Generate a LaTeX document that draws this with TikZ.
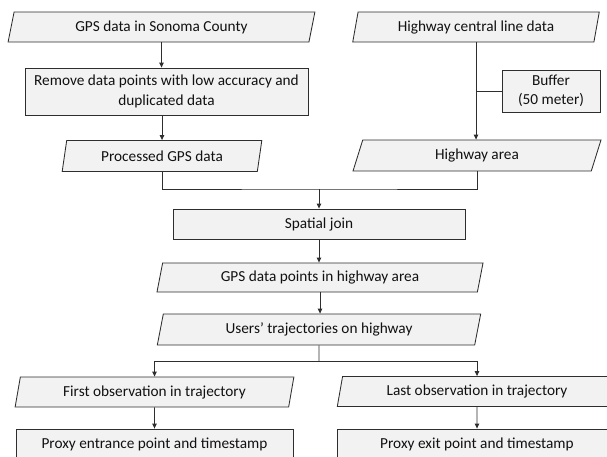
\documentclass[tikz,border=0pt]{standalone}
\usepackage{fontspec}
\setmainfont{Carlito}
\usetikzlibrary{shapes.geometric,arrows.meta,calc}
\definecolor{boxfill}{HTML}{F2F2F2}
\definecolor{boxline}{HTML}{2E2E2E}
\definecolor{txt}{HTML}{111111}
\tikzset{
  base/.style={draw=boxline, fill=boxfill, line width=0.85pt, text=txt,
    font=\fontsize{15.3}{19.5}\selectfont, inner sep=0pt, align=center},
  procbox/.style={base, rectangle},
  databox/.style={base, trapezium, trapezium left angle=75, trapezium right angle=105,
    trapezium stretches=true},
  conn/.style={draw=boxline, line width=0.85pt},
  arr/.style={conn, -{Triangle[length=5pt,width=4.5pt]}},
}
\begin{document}
\begin{tikzpicture}[x=1pt,y=-1pt]
\path[use as bounding box, clip] (0,0) rectangle (607,456);
% left column
\node[databox, minimum width=307, minimum height=30] (gps) at (161.5,27) {GPS data in Sonoma County};
\node[procbox, minimum width=283, minimum height=47] (rem) at (166.5,91.5) {Remove data points with low accuracy and\\duplicated data};
\node[databox, minimum width=200, minimum height=31] (proc) at (162,156) {Processed GPS data};
% right column
\node[databox, minimum width=247, minimum height=30] (hwl) at (476,27) {Highway central line data};
\node[procbox, minimum width=98, minimum height=42] (buf) at (551,91) {Buffer\\(50 meter)};
\node[databox, minimum width=248, minimum height=31] (hwa) at (477,155.5) {Highway area};
% middle
\node[procbox, minimum width=292, minimum height=30] (sj) at (319,224) {Spatial join};
\node[databox, minimum width=327, minimum height=29] (gpts) at (320,277.5) {GPS data points in highway area};
\node[databox, minimum width=324, minimum height=31] (usr) at (319,329.5) {Users’ trajectories on highway};
% bottom
\node[databox, minimum width=279, minimum height=30] (first) at (154.5,392) {First observation in trajectory};
\node[procbox, minimum width=277, minimum height=31] (entr) at (154.5,444.5) {Proxy entrance point and timestamp};
\node[databox, minimum width=280, minimum height=30] (last) at (477,391.5) {Last observation in trajectory};
\node[procbox, minimum width=280, minimum height=31] (exit) at (477,444.5) {Proxy exit point and timestamp};
% coordinates
\coordinate (mj) at (319,189);
\coordinate (sp) at (319,361);
% connectors
\draw[arr] (gps.south) -- (gps.south |- rem.north);
\draw[arr] (proc.north |- rem.south) -- (proc.north);
\draw[arr] (hwl.south) -- (hwl.south |- hwa.north);
\draw[conn] (buf.west) -- (buf.west -| hwl.south);
\draw[conn] (proc.south) |- (mj) -| (hwa.south);
\draw[arr] (mj) -- (sj.north);
\draw[arr] (sj.south) -- (sj.south |- gpts.north);
\draw[arr] (gpts.south) -- (gpts.south |- usr.north);
\draw[conn] (usr.south) -- (sp);
\draw[arr] (sp) -| (first.north);
\draw[arr] (sp) -| (last.north);
\draw[arr] (first.south) -- (entr.north);
\draw[arr] (last.south) -- (exit.north);
\end{tikzpicture}
\end{document}
